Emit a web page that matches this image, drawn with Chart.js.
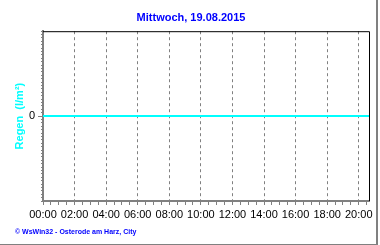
<!DOCTYPE html>
<html>
<head>
<meta charset="utf-8">
<script src="https://cdn.jsdelivr.net/npm/chart.js@4.4.0/dist/chart.umd.min.js"></script>
<style>
  html, body { margin: 0; padding: 0; background: #fff; }
  #wrap { width: 380px; height: 245px; }
</style>
</head>
<body>
<div id="wrap"><canvas id="rainChart" width="380" height="245"></canvas></div>
<script>
// time of day in hours, and rain in l/m² (nothing fell that day)
const hours = [0, 2, 4, 6, 8, 10, 12, 14, 16, 18, 20, 20.65];
const rain = [0, 0, 0, 0, 0, 0, 0, 0, 0, 0, 0, 0];
const hourLabels = ['00:00', '02:00', '04:00', '06:00', '08:00', '10:00', '12:00', '14:00', '16:00', '18:00', '20:00'];

const GRAY = '#808080';
Chart.defaults.font.family = 'Arial, "Liberation Sans", sans-serif';
Chart.defaults.font.size = 11;

// black frame on top/right of plot, grey frame round the picture, footer
const framePlugin = {
    id: 'frame',
    afterDraw(chart) {
        const {ctx, chartArea: a} = chart;
        ctx.save();
        ctx.strokeStyle = '#000';
        ctx.lineWidth = 1;
        ctx.beginPath();
        ctx.moveTo(a.left, a.top + 0.5);
        ctx.lineTo(a.right + 0.5, a.top + 0.5);
        ctx.lineTo(a.right + 0.5, a.bottom);
        ctx.stroke();

        ctx.strokeStyle = GRAY;
        ctx.lineWidth = 2;
        ctx.beginPath();
        ctx.moveTo(377, 0);
        ctx.lineTo(377, 245);
        ctx.moveTo(0, 245);
        ctx.lineTo(378, 245);
        ctx.stroke();

        ctx.fillStyle = '#0000ff';
        ctx.font = 'bold 7px Arial, "Liberation Sans", sans-serif';
        ctx.textBaseline = 'middle';
        ctx.fillText('© WsWin32 - Osterode am Harz, City', 15, 232);
        ctx.restore();
    }
};

const ctx = document.getElementById('rainChart').getContext('2d');
new Chart(ctx, {
    type: 'line',
    data: {
        datasets: [
            {
                label: 'Regen',
                data: hours.map((h, i) => ({x: h, y: rain[i]})),
                borderColor: '#00ffff',
                borderWidth: 2,
                pointRadius: 0,
                fill: false,
            },
        ],
    },
    options: {
        responsive: false,
        animation: false,
        events: [],
        layout: {padding: {left: 13, right: 11, top: 0, bottom: 0}},
        plugins: {
            legend: {display: false},
            tooltip: {enabled: false},
            title: {
                display: true,
                text: 'Mittwoch, 19.08.2015',
                color: '#0000ff',
                font: {size: 11, weight: 'bold'},
                padding: {top: 11, bottom: 7},
            },
        },
        scales: {
            x: {
                type: 'linear',
                min: 0,
                max: 20.65,
                afterFit: (s) => { s.height = 44; },
                ticks: {
                    stepSize: 0.5,
                    includeBounds: false,
                    autoSkip: false,
                    maxRotation: 0,
                    color: '#000',
                    padding: 3,
                    callback: (v) => (Number.isInteger(v) && v % 2 === 0) ? hourLabels[v / 2] : '',
                },
                grid: {
                    color: (c) => (c.tick && c.tick.value > 0 && Number.isInteger(c.tick.value) && c.tick.value % 2 === 0) ? GRAY : 'transparent',
                    tickColor: GRAY,
                    tickLength: 4,
                    lineWidth: 1,
                },
                border: {color: GRAY, width: 2, dash: [3, 3]},
            },
            y: {
                min: -1,
                max: 1,
                weight: 0,
                afterFit: (s) => { s.width = 30; },
                ticks: {
                    stepSize: 1,
                    color: '#000',
                    padding: 3,
                    callback: (v) => v === 0 ? '0' : '',
                },
                grid: {
                    drawOnChartArea: false,
                    tickLength: 5,
                    tickColor: (c) => (c.tick && c.tick.value === 0) ? GRAY : 'transparent',
                },
                border: {color: GRAY, width: 2},
                title: {
                    display: true,
                    text: 'Regen  (l/m²)',
                    color: '#00ffff',
                    font: {size: 11, weight: 'bold'},
                    padding: {top: 0, bottom: 0},
                },
            },
            yMinor: {
                position: 'left',
                min: -1,
                max: 1,
                weight: -1,
                afterFit: (s) => { s.width = 0; },
                ticks: {display: false, stepSize: 0.04},
                grid: {drawOnChartArea: false, tickLength: 2, tickColor: GRAY},
                border: {display: false},
            },
        },
    },
    plugins: [framePlugin],
});
</script>
</body>
</html>
